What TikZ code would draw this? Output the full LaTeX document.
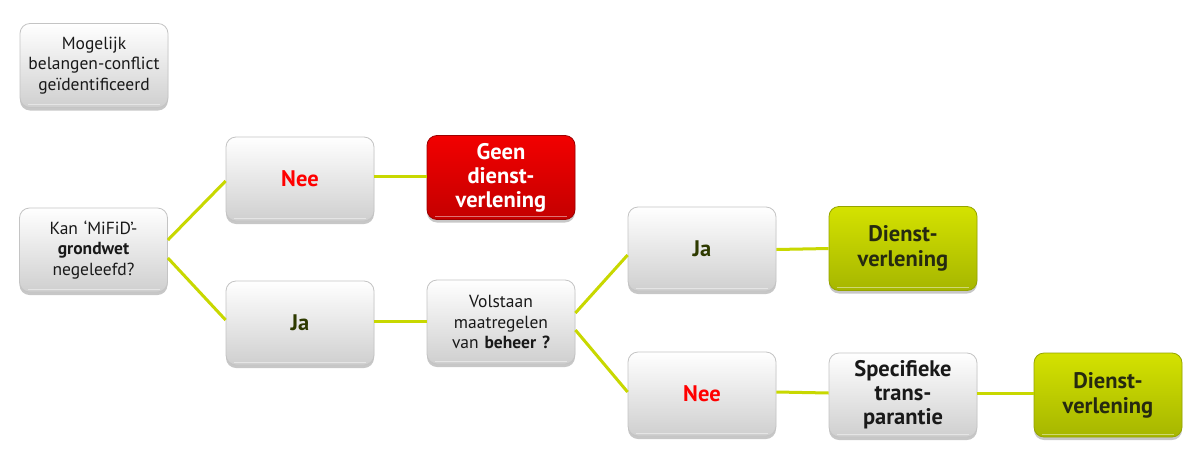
\documentclass[tikz,border=0pt]{standalone}
\usepackage{fontspec}
\setmainfont{PT Sans}
\usetikzlibrary{shadows}
\definecolor{lime}{HTML}{C8D800}
\definecolor{boxborder}{HTML}{C4C4C4}
\definecolor{graybot}{HTML}{CFCFCF}
\definecolor{redtop}{HTML}{F20000}
\definecolor{redbot}{HTML}{C40000}
\definecolor{greentop}{HTML}{D4E200}
\definecolor{greenbot}{HTML}{A6B600}
\definecolor{jagreen}{HTML}{2E3A00}
\definecolor{darktext}{HTML}{262A10}
\definecolor{neered}{HTML}{FF0000}
\tikzset{
  card/.style={rounded corners=10pt, minimum width=148pt, minimum height=84pt,
    text width=144pt, align=center, inner sep=0pt, draw=boxborder, line width=0.8pt,
    drop shadow={shadow xshift=0pt, shadow yshift=-3pt, opacity=0.22, fill=black},
    path picture={\draw[white, opacity=0.45, line width=1pt]
      ([xshift=8pt,yshift=3pt]path picture bounding box.south west) --
      ([xshift=-8pt,yshift=3pt]path picture bounding box.south east);}},
  graycard/.style={card, top color=white, bottom color=graybot},
  redcard/.style={card, top color=redtop, bottom color=redbot, draw=redbot!80!black,
    text=white, font=\fontsize{22.5}{24}\selectfont\bfseries},
  greencard/.style={card, top color=greentop, bottom color=greenbot, draw=greenbot!90!black,
    text=darktext, font=\fontsize{22.5}{25}\selectfont\bfseries},
  smalltext/.style={font=\fontsize{17.5}{20.5}\selectfont, text=black!90},
  neetext/.style={font=\fontsize{22.5}{24}\selectfont\bfseries, text=neered},
  jatext/.style={font=\fontsize{22.5}{24}\selectfont\bfseries, text=jagreen},
  spectext/.style={font=\fontsize{22.5}{24}\selectfont\bfseries, text=black!90},
  link/.style={draw=lime, line width=3pt}
}
\begin{document}
\begin{tikzpicture}[x=1pt, y=-1pt]
\useasboundingbox[fill=white] (0,0) rectangle (1200,461);
\node[graycard, smalltext] (mog) at (94,65.5) {Mogelijk\\belangen-conflict\\geïdentificeerd};
\node[graycard, smalltext] (kan) at (93.5,250) {Kan ‘MiFiD’-\\\textbf{grondwet}\\negeleefd?};
\node[graycard, neetext] (nee1) at (300,179) {Nee};
\node[redcard] (geen) at (501,177.5) {Geen\\dienst-\\verlening};
\node[graycard, jatext] (ja1) at (300,323) {Ja};
\node[graycard, smalltext] (vol) at (501,322) {Volstaan\\maatregelen\\van \textbf{beheer ?}};
\node[graycard, jatext] (ja2) at (702,249) {Ja};
\node[graycard, neetext] (nee2) at (702,394) {Nee};
\node[greencard] (d1) at (903,248.5) {Dienst-\\verlening};
\node[graycard, spectext] (spec) at (903,395) {Specifieke\\trans-\\parantie};
\node[greencard] (d2) at (1108,395) {Dienst-\\verlening};
\draw[link] ([yshift=10pt]kan.east) -- ([yshift=-2pt]nee1.west);
\draw[link] ([yshift=-8pt]kan.east) -- ([yshift=3pt]ja1.west);
\draw[link] ([yshift=3pt]nee1.east) -- ([yshift=1.5pt]geen.west);
\draw[link] ([yshift=2pt]ja1.east) -- ([yshift=1pt]vol.west);
\draw[link] ([yshift=9pt]vol.east) -- ([yshift=-6pt]ja2.west);
\draw[link] ([yshift=-8pt]vol.east) -- ([yshift=2pt]nee2.west);
\draw[link] ([yshift=-0.5pt]ja2.east) -- (d1.west);
\draw[link] ([yshift=2pt]nee2.east) -- ([yshift=2pt]spec.west);
\draw[link] ([yshift=2pt]spec.east) -- ([yshift=2pt]d2.west);
\end{tikzpicture}
\end{document}
